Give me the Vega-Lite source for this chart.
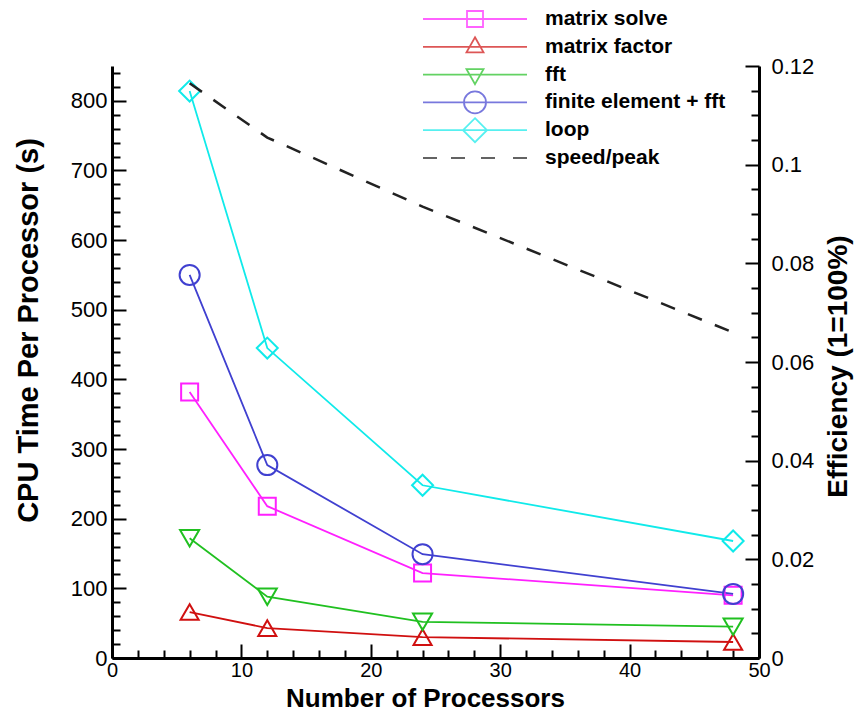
{
  "$schema": "https://vega.github.io/schema/vega-lite/v6.json",
  "width": 647,
  "height": 592,
  "autosize": {"type": "none"},
  "padding": {"left": 112, "top": 66, "right": 98, "bottom": 54},
  "background": "white",
  "config": {
    "view": {"stroke": null},
    "font": "Liberation Sans",
    "axis": {"labelFont": "Liberation Sans", "titleFont": "Liberation Sans", "labelColor": "black", "titleColor": "black", "domainColor": "black", "tickColor": "black", "grid": false, "labelOverlap": false, "labelFlush": false},
    "legend": {"labelFont": "Liberation Sans"}
  },
  "datasets": {
    "cpu": [
      {"procs": 6, "time": 382, "series": "matrix solve"},
      {"procs": 12, "time": 218, "series": "matrix solve"},
      {"procs": 24, "time": 122, "series": "matrix solve"},
      {"procs": 48, "time": 90, "series": "matrix solve"},
      {"procs": 6, "time": 66, "series": "matrix factor"},
      {"procs": 12, "time": 43, "series": "matrix factor"},
      {"procs": 24, "time": 30, "series": "matrix factor"},
      {"procs": 48, "time": 23, "series": "matrix factor"},
      {"procs": 6, "time": 172, "series": "fft"},
      {"procs": 12, "time": 88, "series": "fft"},
      {"procs": 24, "time": 52, "series": "fft"},
      {"procs": 48, "time": 45, "series": "fft"},
      {"procs": 6, "time": 550, "series": "finite element + fft"},
      {"procs": 12, "time": 277, "series": "finite element + fft"},
      {"procs": 24, "time": 149, "series": "finite element + fft"},
      {"procs": 48, "time": 92, "series": "finite element + fft"},
      {"procs": 6, "time": 814, "series": "loop"},
      {"procs": 12, "time": 445, "series": "loop"},
      {"procs": 24, "time": 248, "series": "loop"},
      {"procs": 48, "time": 168, "series": "loop"}
    ],
    "eff": [
      {"procs": 6, "eff": 0.1165},
      {"procs": 12, "eff": 0.1055},
      {"procs": 24, "eff": 0.0915},
      {"procs": 48, "eff": 0.066}
    ]
  },
  "layer": [
    {
      "data": {"name": "cpu"},
      "layer": [
        {
          "mark": {"type": "line", "strokeWidth": 1.8},
          "encoding": {
            "x": {
              "field": "procs", "type": "quantitative",
              "scale": {"domain": [0, 50], "nice": false, "zero": false},
              "axis": {
                "title": "Number of Processors", "titleFontSize": 26, "titleFontWeight": "bold", "titleX": 313, "titleY": 40, "titleBaseline": "middle",
                "values": [0, 2, 4, 6, 8, 10, 12, 14, 16, 18, 20, 22, 24, 26, 28, 30, 32, 34, 36, 38, 40, 42, 44, 46, 48, 50],
                "labelExpr": "datum.value % 10 === 0 ? format(datum.value, 'd') : ''",
                "labelFontSize": 20, "labelPadding": 16, "labelFlush": false, "labelOverlap": false,
                "tickSize": {"condition": {"test": "datum.value % 10 === 0", "value": -14}, "value": -8},
                "tickWidth": 2, "domainWidth": 3
              }
            },
            "y": {
              "field": "time", "type": "quantitative",
              "scale": {"domain": [0, 850], "nice": false},
              "axis": {
                "title": "CPU Time Per Processor (s)", "titleFontSize": 29, "titleFontWeight": "bold", "titleX": -84, "titleY": 264, "titleBaseline": "middle", "titleAngle": -90,
                "values": [0, 20, 40, 60, 80, 100, 120, 140, 160, 180, 200, 220, 240, 260, 280, 300, 320, 340, 360, 380, 400, 420, 440, 460, 480, 500, 520, 540, 560, 580, 600, 620, 640, 660, 680, 700, 720, 740, 760, 780, 800, 820, 840],
                "labelExpr": "datum.value % 100 === 0 ? format(datum.value, 'd') : ''",
                "labelFontSize": 22, "labelPadding": 19, "labelFlush": false, "labelOverlap": false,
                "tickSize": {"condition": {"test": "datum.value % 100 === 0", "value": -14}, "value": -8},
                "tickWidth": 2, "domainWidth": 3
              }
            },
            "color": {
              "field": "series", "type": "nominal", "legend": null,
              "scale": {"domain": ["matrix solve", "matrix factor", "fft", "finite element + fft", "loop"], "range": ["#ff20ff", "#d01010", "#20c020", "#4040d0", "#10eaea"]}
            }
          }
        },
        {
          "mark": {"type": "point", "filled": false, "strokeWidth": 2, "opacity": 1},
          "encoding": {
            "x": {
              "field": "procs", "type": "quantitative",
              "axis": {
                "title": "Number of Processors", "titleFontSize": 26, "titleFontWeight": "bold", "titleX": 313, "titleY": 40, "titleBaseline": "middle",
                "values": [0, 2, 4, 6, 8, 10, 12, 14, 16, 18, 20, 22, 24, 26, 28, 30, 32, 34, 36, 38, 40, 42, 44, 46, 48, 50],
                "labelExpr": "datum.value % 10 === 0 ? format(datum.value, 'd') : ''",
                "labelFontSize": 20, "labelPadding": 16, "labelFlush": false, "labelOverlap": false,
                "tickSize": {"condition": {"test": "datum.value % 10 === 0", "value": -14}, "value": -8},
                "tickWidth": 2, "domainWidth": 3
              }
            },
            "y": {
              "field": "time", "type": "quantitative",
              "axis": {
                "title": "CPU Time Per Processor (s)", "titleFontSize": 29, "titleFontWeight": "bold", "titleX": -84, "titleY": 264, "titleBaseline": "middle", "titleAngle": -90,
                "values": [0, 20, 40, 60, 80, 100, 120, 140, 160, 180, 200, 220, 240, 260, 280, 300, 320, 340, 360, 380, 400, 420, 440, 460, 480, 500, 520, 540, 560, 580, 600, 620, 640, 660, 680, 700, 720, 740, 760, 780, 800, 820, 840],
                "labelExpr": "datum.value % 100 === 0 ? format(datum.value, 'd') : ''",
                "labelFontSize": 22, "labelPadding": 19, "labelFlush": false, "labelOverlap": false,
                "tickSize": {"condition": {"test": "datum.value % 100 === 0", "value": -14}, "value": -8},
                "tickWidth": 2, "domainWidth": 3
              }
            },
            "color": {
              "field": "series", "type": "nominal", "legend": null,
              "scale": {"domain": ["matrix solve", "matrix factor", "fft", "finite element + fft", "loop"], "range": ["#ff20ff", "#d01010", "#20c020", "#4040d0", "#10eaea"]}
            },
            "shape": {
              "field": "series", "type": "nominal", "legend": null,
              "scale": {"domain": ["matrix solve", "matrix factor", "fft", "finite element + fft", "loop"], "range": ["square", "triangle-up", "triangle-down", "circle", "diamond"]}
            },
            "size": {
              "field": "series", "type": "nominal", "legend": null,
              "scale": {"domain": ["matrix solve", "matrix factor", "fft", "finite element + fft", "loop"], "range": [289, 441, 441, 500, 560]}
            }
          }
        },
        {
          "transform": [{"filter": "datum.procs < 0"}],
          "mark": {"type": "point", "filled": false, "strokeWidth": 1.8, "size": 400},
          "encoding": {
            "x": {
              "field": "procs", "type": "quantitative",
              "axis": {
                "title": "Number of Processors", "titleFontSize": 26, "titleFontWeight": "bold", "titleX": 313, "titleY": 40, "titleBaseline": "middle",
                "values": [0, 2, 4, 6, 8, 10, 12, 14, 16, 18, 20, 22, 24, 26, 28, 30, 32, 34, 36, 38, 40, 42, 44, 46, 48, 50],
                "labelExpr": "datum.value % 10 === 0 ? format(datum.value, 'd') : ''",
                "labelFontSize": 20, "labelPadding": 16, "labelFlush": false, "labelOverlap": false,
                "tickSize": {"condition": {"test": "datum.value % 10 === 0", "value": -14}, "value": -8},
                "tickWidth": 2, "domainWidth": 3
              }
            },
            "y": {
              "field": "time", "type": "quantitative",
              "axis": {
                "title": "CPU Time Per Processor (s)", "titleFontSize": 29, "titleFontWeight": "bold", "titleX": -84, "titleY": 264, "titleBaseline": "middle", "titleAngle": -90,
                "values": [0, 20, 40, 60, 80, 100, 120, 140, 160, 180, 200, 220, 240, 260, 280, 300, 320, 340, 360, 380, 400, 420, 440, 460, 480, 500, 520, 540, 560, 580, 600, 620, 640, 660, 680, 700, 720, 740, 760, 780, 800, 820, 840],
                "labelExpr": "datum.value % 100 === 0 ? format(datum.value, 'd') : ''",
                "labelFontSize": 22, "labelPadding": 19, "labelFlush": false, "labelOverlap": false,
                "tickSize": {"condition": {"test": "datum.value % 100 === 0", "value": -14}, "value": -8},
                "tickWidth": 2, "domainWidth": 3
              }
            },
            "color": {
              "field": "series", "type": "nominal",
              "scale": {"domain": ["matrix solve", "matrix factor", "fft", "finite element + fft", "loop", "speed/peak"], "range": ["#ff20ff", "#d01010", "#20c020", "#4040d0", "#10eaea", "#222222"]},
              "legend": {
                "title": null, "orient": "none", "legendX": 352, "legendY": -58,
                "padding": 0, "labelFontSize": 21, "labelFontWeight": "bold", "labelColor": "black", "labelLimit": 0,
                "labelOffset": 59, "rowPadding": -4.2, "gridAlign": "all", "symbolStrokeWidth": 1.8, "symbolFillColor": "transparent", "symbolSize": 400
              }
            },
            "shape": {
              "field": "series", "type": "nominal",
              "scale": {"domain": ["matrix solve", "matrix factor", "fft", "finite element + fft", "loop", "speed/peak"],
                "range": [
                  "M-5.2,0H5.2M-0.8,-0.8H0.8V0.8H-0.8Z",
                  "M-5.2,0H5.2M0,-0.95L0.85,0.55H-0.85Z",
                  "M-5.2,0H5.2M0,0.95L0.85,-0.55H-0.85Z",
                  "M-5.2,0H5.2M1.1,0A1.1,1.1 0 1,1 -1.1,0A1.1,1.1 0 1,1 1.1,0Z",
                  "M-5.2,0H5.2M0,-1.2L1.2,0L0,1.2L-1.2,0Z",
                  "M-5.2,0H-3.8M-2.4,0H-1.0M0.6,0H2.0M3.8,0H5.2"
                ]},
              "legend": {
                "title": null, "orient": "none", "legendX": 352, "legendY": -58,
                "padding": 0, "labelFontSize": 21, "labelFontWeight": "bold", "labelColor": "black", "labelLimit": 0,
                "labelOffset": 59, "rowPadding": -4.2, "gridAlign": "all", "symbolStrokeWidth": 1.8, "symbolFillColor": "transparent", "symbolSize": 400
              }
            }
          }
        }
      ],
      "resolve": {"scale": {"color": "independent", "shape": "independent", "size": "independent"}}
    },
    {
      "data": {"name": "eff"},
      "mark": {"type": "line", "color": "#222222", "strokeWidth": 2.5, "strokeDash": [15, 14]},
      "encoding": {
        "x": {
          "field": "procs", "type": "quantitative",
          "axis": {
            "title": "Number of Processors", "titleFontSize": 26, "titleFontWeight": "bold", "titleX": 313, "titleY": 40, "titleBaseline": "middle",
            "values": [0, 2, 4, 6, 8, 10, 12, 14, 16, 18, 20, 22, 24, 26, 28, 30, 32, 34, 36, 38, 40, 42, 44, 46, 48, 50],
            "labelExpr": "datum.value % 10 === 0 ? format(datum.value, 'd') : ''",
            "labelFontSize": 20, "labelPadding": 16, "labelFlush": false, "labelOverlap": false,
            "tickSize": {"condition": {"test": "datum.value % 10 === 0", "value": -14}, "value": -8},
            "tickWidth": 2, "domainWidth": 3
          }
        },
        "y": {
          "field": "eff", "type": "quantitative",
          "scale": {"domain": [0, 0.12], "nice": false},
          "axis": {
            "orient": "right",
            "title": "Efficiency (1=100%)", "titleFontSize": 28, "titleFontWeight": "bold", "titleX": 79, "titleY": 300, "titleBaseline": "middle", "titleAngle": -90,
            "values": [0, 0.005, 0.01, 0.015, 0.02, 0.025, 0.03, 0.035, 0.04, 0.045, 0.05, 0.055, 0.06, 0.065, 0.07, 0.075, 0.08, 0.085, 0.09, 0.095, 0.1, 0.105, 0.11, 0.115, 0.12],
            "labelExpr": "round(datum.value * 1000) % 20 === 0 ? format(datum.value, '~g') : ''",
            "labelFontSize": 22, "labelPadding": 26, "labelFlush": false, "labelOverlap": false,
            "tickSize": {"condition": {"test": "round(datum.value * 1000) % 20 === 0", "value": -14}, "value": -8},
            "tickWidth": 2, "domainWidth": 3
          }
        }
      }
    }
  ],
  "resolve": {"scale": {"y": "independent"}}
}
